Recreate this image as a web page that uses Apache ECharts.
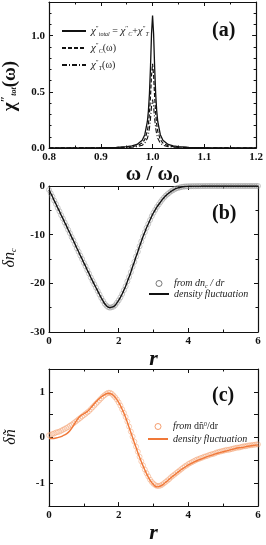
<!DOCTYPE html>
<html><head><meta charset="utf-8">
<script src="https://cdn.jsdelivr.net/npm/echarts@6/dist/echarts.min.js"></script>
<style>html,body{margin:0;padding:0;background:#fff}#c{width:266px;height:545px}</style>
</head><body><div id="c"></div>
<script>
// ---------- Panel (a) data ----------
const omegaA = [0.8,0.9,0.93,0.95,0.96,0.97,0.98,0.985,0.99,0.992,0.994,0.996,0.998,1.0,1.002,1.004,1.006,1.008,1.01,1.015,1.02,1.03,1.04,1.05,1.07,1.1,1.2];
const chiTotal = [0.001,0.003,0.006,0.012,0.018,0.032,0.069,0.118,0.236,0.332,0.484,0.720,1.017,1.18,1.017,0.720,0.484,0.332,0.236,0.118,0.069,0.032,0.018,0.012,0.006,0.003,0.001];
const chiC = [0.0005,0.002,0.004,0.0074,0.012,0.020,0.044,0.075,0.15,0.211,0.308,0.458,0.647,0.75,0.647,0.458,0.308,0.211,0.15,0.075,0.044,0.020,0.012,0.0074,0.004,0.002,0.0005];
const chiT = [0.0003,0.001,0.002,0.0043,0.0066,0.012,0.025,0.043,0.086,0.121,0.176,0.262,0.371,0.43,0.371,0.262,0.176,0.121,0.086,0.043,0.025,0.012,0.0066,0.0043,0.002,0.001,0.0003];

// ---------- Panel (b) data (r = 0 .. 6, step 0.05) ----------
const rStepB = 0.05;
const dnB = [-0.8,-1.5,-2.2,-3.0,-3.7,-4.5,-5.2,-6.0,-6.7,-7.5,-8.2,-9.0,-9.7,-10.5,-11.2,-12.0,-12.8,-13.5,-14.3,-15.0,
-15.8,-16.5,-17.3,-18.0,-18.8,-19.5,-20.2,-20.9,-21.6,-22.3,-23.0,-23.6,-24.2,-24.6,-24.9,-25.0,-24.9,-24.8,-24.5,-24.0,
-23.5,-22.9,-22.2,-21.4,-20.6,-19.6,-18.7,-17.7,-16.6,-15.6,-14.5,-13.5,-12.4,-11.4,-10.4,-9.5,-8.6,-7.8,-7.0,-6.2,
-5.5,-4.9,-4.3,-3.8,-3.3,-2.8,-2.4,-2.0,-1.7,-1.4,-1.1,-0.9,-0.7,-0.5,-0.4,-0.3,-0.2,-0.15,-0.1,-0.08,
-0.06,-0.05,-0.04,-0.03,-0.03,-0.02,-0.02,-0.02,-0.01,-0.01,-0.01,0,0,0,0,0,0,0,0,0,
0,0,0,0,0,0,0,0,0,0,0,0,0,0,0,0,0,0,0,0,0];

// ---------- Panel (c) data ----------
const rStepCcirc = 0.05;
const dnCcirc = [0.05,0.06,0.08,0.09,0.11,0.12,0.13,0.15,0.17,0.19,0.21,0.23,0.26,0.28,0.31,0.34,0.37,0.40,0.43,0.46,
0.49,0.52,0.55,0.58,0.62,0.66,0.70,0.74,0.78,0.82,0.86,0.90,0.93,0.96,0.98,0.98,0.96,0.92,0.88,0.83,
0.77,0.70,0.62,0.54,0.45,0.35,0.24,0.13,0.02,-0.09,-0.20,-0.31,-0.42,-0.52,-0.61,-0.70,-0.78,-0.85,-0.92,-0.97,
-1.01,-1.04,-1.06,-1.06,-1.05,-1.03,-1.00,-0.97,-0.94,-0.91,-0.87,-0.84,-0.81,-0.78,-0.75,-0.72,-0.69,-0.66,-0.63,-0.61,
-0.58,-0.56,-0.54,-0.52,-0.50,-0.48,-0.47,-0.45,-0.44,-0.42,-0.41,-0.40,-0.38,-0.37,-0.36,-0.35,-0.33,-0.32,-0.31,-0.30,
-0.29,-0.28,-0.27,-0.27,-0.26,-0.25,-0.24,-0.23,-0.22,-0.22,-0.21,-0.20,-0.19,-0.19,-0.18,-0.17,-0.17,-0.16,-0.16,-0.15,-0.15];
const rStepCline = 0.1;
const dnCline = [-0.02,-0.02,-0.01,0.01,0.04,0.08,0.15,0.26,0.38,0.47,0.52,0.57,0.65,0.74,0.82,0.89,0.94,0.97,0.95,0.88,
0.77,0.62,0.44,0.22,0.0,-0.22,-0.43,-0.62,-0.79,-0.93,-1.03,-1.08,-1.06,-1.01,-0.95,-0.88,-0.82,-0.76,-0.70,-0.65,
-0.60,-0.56,-0.52,-0.49,-0.46,-0.43,-0.40,-0.38,-0.35,-0.33,-0.31,-0.29,-0.27,-0.25,-0.23,-0.22,-0.21,-0.19,-0.18,-0.17,-0.16];

const ticksA_x = ['0.8','0.9','1.0','1.1','1.2'];
const ticksA_y = ['0.0','0.5','1.0'];
const ticksB_x = ['0','2','4','6'];
const ticksB_y = ['-30','-20','-10','0'];
const ticksC_y = ['-1','0','1'];

// ---------- build ----------
const pairs = (xs, ys) => ys.map((y, i) => [xs[i], y]);
const stepPairs = (step, ys) => ys.map((y, i) => [+(i * step).toFixed(3), y]);

const SERIF = '"Liberation Serif","DejaVu Serif",serif';
const ORANGE = '#f07838';
const ORANGE_L = '#f39a68';
const GRAY = '#8c8c8c';
const CLEAR = 'rgba(255,255,255,0)';

function xAx(g, min, max, interval, minorSplit, fmt, name, nameGap, pos) {
  const main = pos !== 'top';
  return {
    type: 'value', gridIndex: g, position: pos || 'bottom', min, max, interval,
    axisLine: { show: true, onZero: false, lineStyle: { color: '#111', width: 1.2 } },
    axisTick: { show: true, inside: true, length: 4, lineStyle: { color: '#111' } },
    minorTick: { show: minorSplit > 1, splitNumber: minorSplit, length: 2.5, lineStyle: { color: '#111' } },
    splitLine: { show: false },
    axisLabel: { show: main, margin: 4, color: '#111', fontFamily: SERIF, fontWeight: 'bold', fontSize: 11, formatter: fmt,
      showMinLabel: true, showMaxLabel: true },
    name: main ? name : '', nameLocation: 'middle', nameGap: nameGap,
    nameTextStyle: { color: '#111', fontFamily: SERIF }
  };
}
function yAx(g, min, max, interval, minorSplit, fmt, pos) {
  const main = pos !== 'right';
  return {
    type: 'value', gridIndex: g, position: pos || 'left', min, max, interval,
    axisLine: { show: true, onZero: false, lineStyle: { color: '#111', width: 1.2 } },
    axisTick: { show: true, inside: true, length: 4, lineStyle: { color: '#111' } },
    minorTick: { show: minorSplit > 1, splitNumber: minorSplit, length: 2.5, lineStyle: { color: '#111' } },
    splitLine: { show: false },
    axisLabel: { show: main, margin: 4, color: '#111', fontFamily: SERIF, fontWeight: 'bold', fontSize: 11, formatter: fmt,
      showMinLabel: true, showMaxLabel: true }
  };
}

const fmtA_x = v => { const s = v.toFixed(1); return ticksA_x.includes(s) ? s : ''; };
const fmtA_y = v => { const s = v.toFixed(1); return ticksA_y.includes(s) ? s : ''; };
const fmtB_x = v => { const s = String(Math.round(v)); return ticksB_x.includes(s) && Math.abs(v - Math.round(v)) < 1e-6 ? s : ''; };
const fmtB_y = v => { const s = String(Math.round(v)); return ticksB_y.includes(s) ? s : ''; };
const fmtC_y = v => { if (Math.abs(v - Math.round(v)) > 1e-6) return ''; const s = String(Math.round(v)); return ticksC_y.includes(s) ? s : ''; };

const nameRich = {
  b: { fontFamily: SERIF, fontWeight: 'bold', fontSize: 21, color: '#111' },
  s: { fontFamily: SERIF, fontWeight: 'bold', fontSize: 13, color: '#111', padding: [10, 0, 0, 0] },
  r: { fontFamily: SERIF, fontWeight: 'bold', fontStyle: 'italic', fontSize: 22, color: '#111' }
};

const xA = xAx(0, 0.8, 1.2, 0.1, 2, fmtA_x, '{b|ω / ω}{s|0}', 13);
xA.nameTextStyle.rich = nameRich;
const xB = xAx(1, 0, 6, 2, 2, fmtB_x, '{r|r}', 6);
xB.nameTextStyle.rich = nameRich;
const xC = xAx(2, 0, 6, 2, 2, fmtB_x, '{r|r}', 10);
xC.nameTextStyle.rich = nameRich;

const legendTextA = {
  total: '{c|χ}{p|″}{s|total}{t| = }{c|χ}{p|″}{s|C}{t|+}{c|χ}{p|″}{s|T}',
  C: '{c|χ}{p|″}{s|C}{t|(ω)}',
  T: '{c|χ}{p|″}{s|T}{t|(ω)}'
};
const richLeg = {
  c: { fontFamily: SERIF, fontStyle: 'italic', fontSize: 11, color: '#222', lineHeight: 14 },
  p: { fontFamily: SERIF, fontSize: 7, color: '#222', padding: [0, 0, 6, 0], lineHeight: 14 },
  s: { fontFamily: SERIF, fontStyle: 'italic', fontSize: 6, color: '#222', padding: [6, 0, 0, 0], lineHeight: 14 },
  t: { fontFamily: SERIF, fontSize: 10, color: '#222', lineHeight: 14 },
  i: { fontFamily: SERIF, fontStyle: 'italic', fontSize: 10, color: '#222', lineHeight: 10 },
  u: { fontFamily: SERIF, fontSize: 10, color: '#222', lineHeight: 10 },
  sb: { fontFamily: SERIF, fontStyle: 'italic', fontSize: 6, color: '#222', padding: [5, 0, 0, 0], lineHeight: 10 },
  sp: { fontFamily: SERIF, fontSize: 6, color: '#222', padding: [0, 0, 5, 0], lineHeight: 10 }
};
const legendTextBC = {
  'b-circ': '{i|from dn}{sb|c}{i| / dr}',
  'b-line': '{i|density fluctuation}',
  'c-circ': '{i|from }{u|dñ}{sp|0}{u|/dr}',
  'c-line': '{i|density fluctuation}'
};
const noSym = { opacity: 0 };

const option = {
  animation: false,
  backgroundColor: '#fff',
  grid: [
    { left: 49, top: 2, width: 209, height: 146 },
    { left: 49, top: 186, width: 209, height: 146 },
    { left: 49, top: 369, width: 209, height: 146 }
  ],
  xAxis: [
    xA, xB, xC,
    xAx(0, 0.8, 1.2, 0.1, 2, fmtA_x, '', 0, 'top'),
    xAx(1, 0, 6, 2, 2, fmtB_x, '', 0, 'top'),
    xAx(2, 0, 6, 2, 2, fmtB_x, '', 0, 'top')
  ],
  yAxis: [
    yAx(0, 0, 1.3, 0.5, 5, fmtA_y),
    yAx(1, -30, 0, 10, 2, fmtB_y),
    yAx(2, -1.5, 1.5, 0.5, 1, fmtC_y),
    yAx(0, 0, 1.3, 0.5, 5, fmtA_y, 'right'),
    yAx(1, -30, 0, 10, 2, fmtB_y, 'right'),
    yAx(2, -1.5, 1.5, 0.5, 1, fmtC_y, 'right')
  ],
  legend: [
    { data: [{ name: 'total', itemStyle: noSym }, { name: 'C', itemStyle: noSym }, { name: 'T', itemStyle: noSym }],
      orient: 'vertical', left: 56, top: 19, itemWidth: 24, itemHeight: 8, itemGap: 3,
      formatter: n => legendTextA[n], textStyle: { rich: richLeg, lineHeight: 14 }, selectedMode: false },
    { data: [{ name: 'b-circ', itemStyle: { borderWidth: 0.9, borderColor: '#444', color: CLEAR } }, { name: 'b-line', itemStyle: noSym }],
      orient: 'vertical', left: 143, top: 273, itemWidth: 20, itemHeight: 6, itemGap: 0,
      formatter: n => legendTextBC[n], textStyle: { rich: richLeg, lineHeight: 9 }, selectedMode: false },
    { data: [{ name: 'c-circ', itemStyle: { borderWidth: 0.9, borderColor: ORANGE, color: CLEAR } }, { name: 'c-line', itemStyle: noSym }],
      orient: 'vertical', left: 142, top: 416, itemWidth: 20, itemHeight: 6, itemGap: 2,
      formatter: n => legendTextBC[n], textStyle: { rich: richLeg, lineHeight: 10 }, selectedMode: false }
  ],
  series: [
    { name: 'total', type: 'line', xAxisIndex: 0, yAxisIndex: 0, data: pairs(omegaA, chiTotal), showSymbol: false, symbol: 'none',
      lineStyle: { color: '#111', width: 1.3 }, itemStyle: { color: '#111' } },
    { name: 'C', type: 'line', xAxisIndex: 0, yAxisIndex: 0, data: pairs(omegaA, chiC), showSymbol: false, symbol: 'none',
      lineStyle: { color: '#111', width: 1.2, type: [4, 2] }, itemStyle: { color: '#111' } },
    { name: 'T', type: 'line', xAxisIndex: 0, yAxisIndex: 0, data: pairs(omegaA, chiT), showSymbol: false, symbol: 'none',
      lineStyle: { color: '#111', width: 1.1, type: [5, 2, 1, 2] }, itemStyle: { color: '#111' } },

    { name: 'b-circ', type: 'scatter', xAxisIndex: 1, yAxisIndex: 1, data: stepPairs(rStepB, dnB), symbol: 'circle', symbolSize: 5,
      itemStyle: { color: CLEAR, borderColor: GRAY, borderWidth: 0.6 } },
    { name: 'b-line', type: 'line', xAxisIndex: 1, yAxisIndex: 1, data: stepPairs(rStepB, dnB), showSymbol: false, symbol: 'none', smooth: true,
      lineStyle: { color: '#111', width: 1.4 }, itemStyle: { color: '#111' } },

    { name: 'c-circ', type: 'scatter', xAxisIndex: 2, yAxisIndex: 2, data: stepPairs(rStepCcirc, dnCcirc), symbol: 'circle', symbolSize: 5,
      itemStyle: { color: CLEAR, borderColor: ORANGE_L, borderWidth: 0.6 } },
    { name: 'c-line', type: 'line', xAxisIndex: 2, yAxisIndex: 2, data: stepPairs(rStepCline, dnCline), showSymbol: false, symbol: 'none', smooth: true,
      lineStyle: { color: ORANGE, width: 1.4 }, itemStyle: { color: ORANGE } }
  ],
  graphic: [
    { type: 'text', left: 212, top: 21, style: { text: '(a)', font: 'bold 20px ' + SERIF, fill: '#111' } },
    { type: 'text', left: 212, top: 204, style: { text: '(b)', font: 'bold 20px ' + SERIF, fill: '#111' } },
    { type: 'text', left: 212, top: 386, style: { text: '(c)', font: 'bold 20px ' + SERIF, fill: '#111' } },
    { type: 'text', x: 10, y: 86, rotation: Math.PI / 2,
      style: { text: '{c|χ}{p|″}{s|tot}{c|(ω)}', align: 'center', verticalAlign: 'middle',
        rich: { c: { font: 'bold 19px ' + SERIF, fill: '#111' }, p: { font: 'bold 12px ' + SERIF, fill: '#111', padding: [0,0,8,0] },
                s: { font: 'italic bold 8px ' + SERIF, fill: '#111', padding: [8,0,0,0] } } } },
    { type: 'text', x: 10, y: 258, rotation: Math.PI / 2,
      style: { text: '{c|δn}{s|c}', align: 'center', verticalAlign: 'middle',
        rich: { c: { font: 'italic 16px ' + SERIF, fill: '#111' }, s: { font: 'italic 8px ' + SERIF, fill: '#111', padding: [8,0,0,0] } } } },
    { type: 'text', x: 11, y: 437, rotation: Math.PI / 2,
      style: { text: 'δñ', align: 'center', verticalAlign: 'middle', font: 'italic 16px ' + SERIF, fill: '#111' } }
  ]
};
const chart = echarts.init(document.getElementById('c'), null, { renderer: 'canvas' });
chart.setOption(option);
</script>
</body></html>
